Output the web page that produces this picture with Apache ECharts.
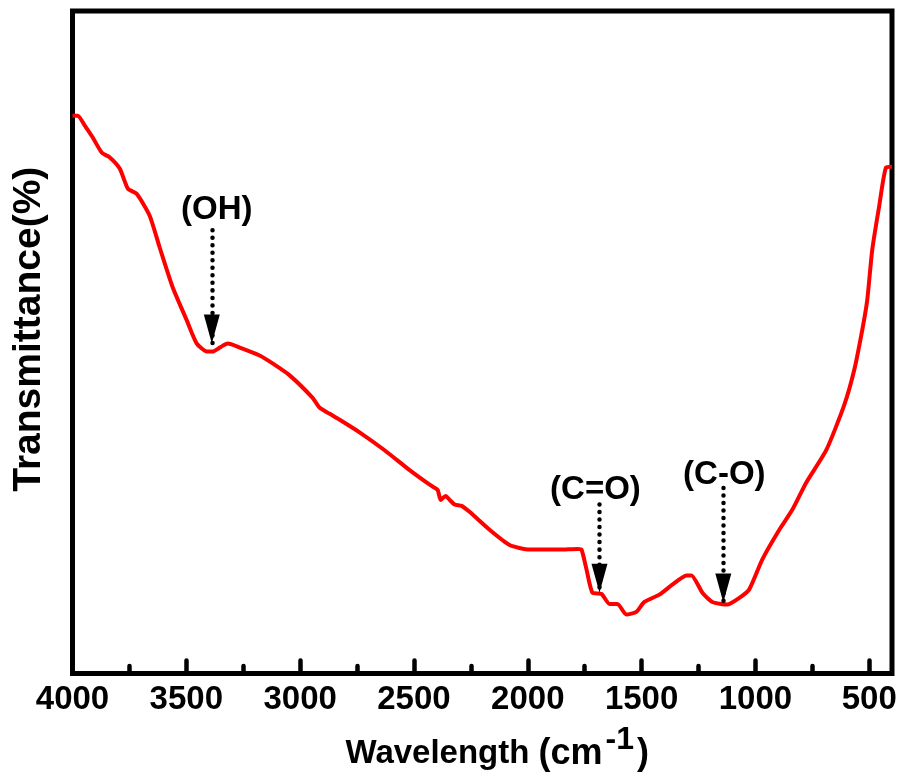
<!DOCTYPE html>
<html>
<head>
<meta charset="utf-8">
<script src="https://cdn.jsdelivr.net/npm/echarts@6/dist/echarts.min.js"></script>
<style>html,body{margin:0;padding:0;background:#fff;}#c{width:904px;height:777px;}</style>
</head>
<body>
<div id="c"></div>
<script>
// wavenumber (cm^-1) and transmittance (arbitrary %)
var wavenumber = [4000,3977,3946,3911,3871,3836,3792,3757,3718,3661,3617,3560,3498,3454,3410,3384,3353,3318,3265,3178,3121,3046,2945,2914,2870,2826,2739,2629,2519,2431,2396,2383,2361,2343,2321,2291,2256,2168,2080,1992,1860,1781,1764,1742,1716,1676,1641,1606,1567,1523,1488,1422,1365,1303,1281,1233,1189,1124,1071,1027,970,895,838,777,689,610,566,531,509,487,456,426,400];
var transmittance = [84.2,84.2,82.7,80.9,78.6,77.9,76.2,73.2,72.4,69.1,64.3,58.3,53.3,49.8,48.6,48.6,49.2,49.8,49.2,48.0,46.8,45.0,41.6,40.1,39.2,38.3,36.4,33.7,30.7,28.5,27.7,26.2,26.8,26.2,25.5,25.3,24.4,21.7,19.4,18.7,18.7,18.8,18.7,15.7,12.2,12.0,10.5,10.5,8.9,9.3,10.8,11.9,13.4,14.8,14.8,12.2,10.8,10.4,11.4,12.7,17.2,21.7,24.7,28.8,33.7,40.5,45.8,51.8,56.3,63.9,70.6,76.4,76.5];
var majorTicks = [4000,3500,3000,2500,2000,1500,1000,500];
var minorTicks = [3750,3250,2750,2250,1750,1250,750];
var annLabels = ['(OH)','(C=O)','(C-O)'];
var annX = [3388,1685,1141];
var annYStart = [66.9,25.5,28.0];
var annYEnd = [49.8,12.2,10.7];

var seriesData = wavenumber.map(function(w,i){return [w, transmittance[i]];});
var labelDist = [4,-2,-3];
var labelDx = [5,-4,1];
var markData = annLabels.map(function(l,i){
  return [{name:l, coord:[annX[i], annYStart[i]], symbol:'none', label:{distance:labelDist[i], offset:[labelDx[i],0]}},
          {coord:[annX[i], annYEnd[i]], symbol:'triangle', symbolSize:[16,29], symbolOffset:[0,14.5]}];
});
var FF = '"Liberation Sans", Arial, sans-serif';
var chart = echarts.init(document.getElementById('c'), null, {renderer:'canvas'});
chart.setOption({
  animation:false,
  backgroundColor:'#fff',
  grid:{left:72.5, top:11, right:12, bottom:102.3, show:true, borderColor:'#000', borderWidth:5, backgroundColor:'transparent'},
  xAxis:[{
    type:'value', min:400, max:4000, inverse:true,
    axisLine:{show:false},
    splitLine:{show:false},
    axisTick:{show:true, inside:true, length:13, customValues:majorTicks, lineStyle:{color:'#000', width:4.5, cap:'round'}},
    axisLabel:{show:true, customValues:majorTicks, margin:10, color:'#000', fontSize:33, fontWeight:'bold', fontFamily:FF,
      formatter:function(v){return String(v);}},
    name:'{a|Wavelength }{c|(cm}{b|-1}{c|)}',
    nameLocation:'middle', nameGap:51,
    nameTextStyle:{padding:[0,0,0,30], rich:{
      a:{fontSize:33, fontWeight:'bold', fontFamily:FF, color:'#000'},
      c:{fontSize:36, fontWeight:'bold', fontFamily:FF, color:'#000'},
      b:{fontSize:32, fontWeight:'bold', fontFamily:FF, color:'#000', padding:[0,3,27,3]}
    }}
  },{
    type:'value', min:400, max:4000, inverse:true, position:'bottom',
    axisLine:{show:false}, splitLine:{show:false}, axisLabel:{show:false},
    axisTick:{show:true, inside:true, length:7.5, customValues:minorTicks, lineStyle:{color:'#000', width:4.5, cap:'round'}}
  }],
  yAxis:{
    type:'value', min:0, max:100,
    axisLine:{show:false}, axisTick:{show:false}, axisLabel:{show:false}, splitLine:{show:false},
    name:'Transmittance(%)', nameLocation:'middle', nameGap:24, nameRotate:90,
    nameTextStyle:{fontSize:39, fontWeight:'bold', fontFamily:FF, color:'#000', padding:[0,0,0,26]}
  },
  series:[{
    type:'line', xAxisIndex:0, data:seriesData, showSymbol:false, symbol:'none', smooth:0.2,
    lineStyle:{color:'#ff0000', width:4}, itemStyle:{color:'#ff0000'},
    markLine:{
      silent:true, symbol:['none','triangle'], symbolSize:28,
      lineStyle:{color:'#000', width:4.5, type:[0.01,7.5], cap:'round'},
      itemStyle:{color:'#000'},
      label:{show:true, position:'start', formatter:'{b}', distance:4, color:'#000', fontSize:33, fontWeight:'bold', fontFamily:FF},
      emphasis:{disabled:true},
      data:markData
    }
  }]
});
</script>
</body>
</html>
